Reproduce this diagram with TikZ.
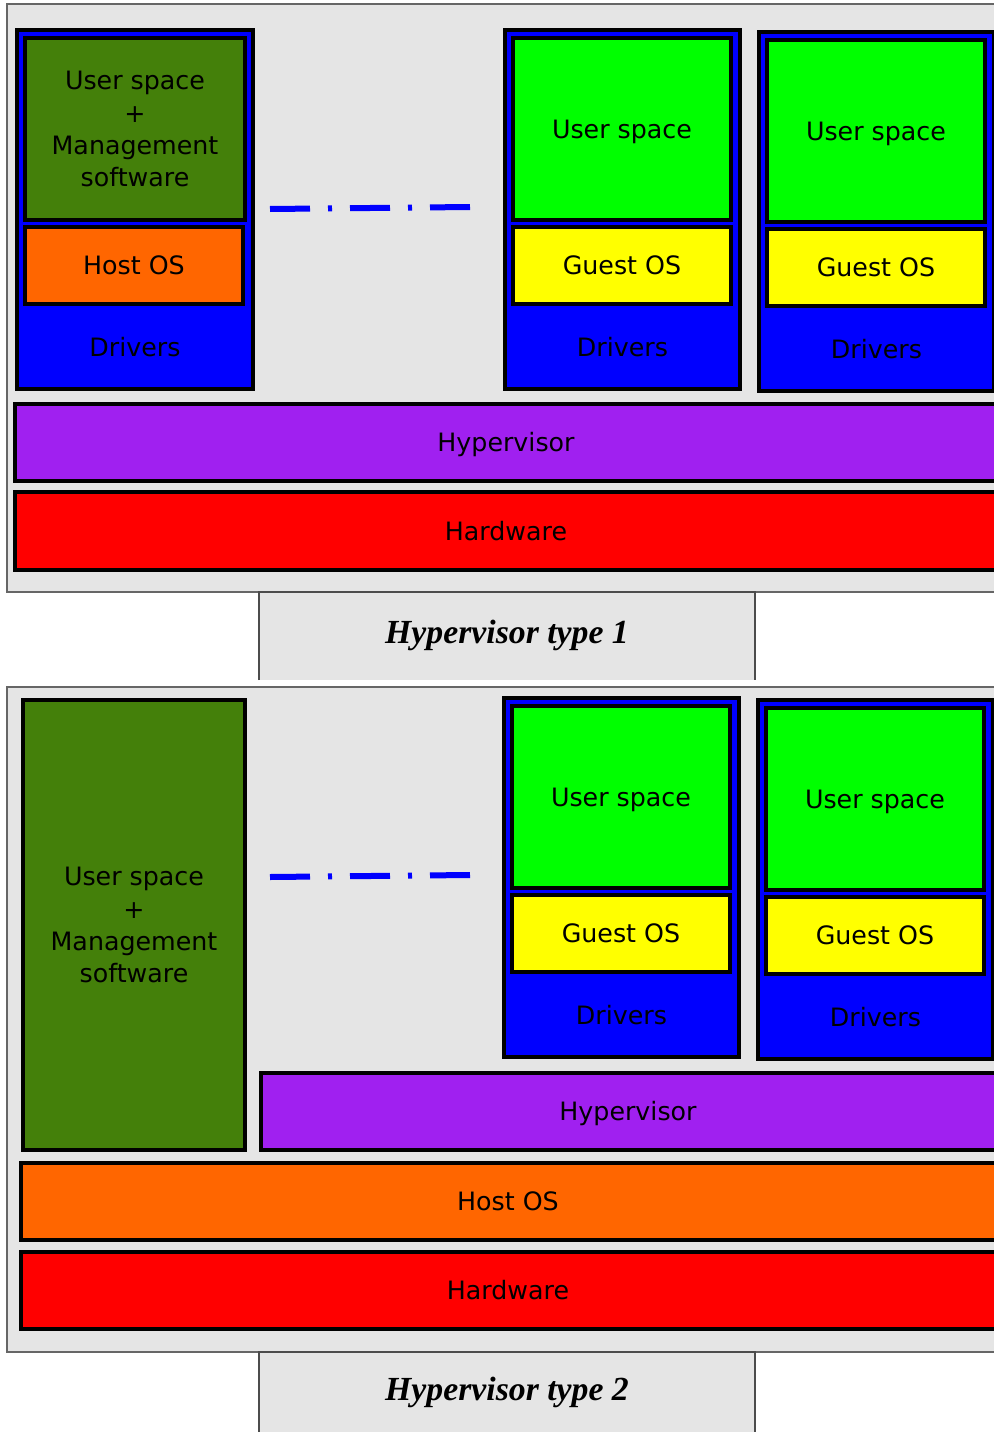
\documentclass[tikz,border=0pt]{standalone}
\usepackage{fontspec}
\setmainfont{DejaVu Sans}
\newfontfamily\capfont{Liberation Serif}
\usetikzlibrary{calc}
\definecolor{panelgray}{RGB}{229,229,229}
\definecolor{mgmtgreen}{RGB}{68,128,10}
\definecolor{hostorange}{RGB}{255,102,0}
\definecolor{userlime}{RGB}{0,255,0}
\definecolor{guestyellow}{RGB}{255,255,0}
\definecolor{drvblue}{RGB}{0,0,255}
\definecolor{hyppurple}{RGB}{160,32,240}
\definecolor{hwred}{RGB}{255,0,0}

% guest VM: #1,#2 = top left corner, #3 = name prefix
\newcommand{\guestvm}[3]{%
	\draw [layer, fill=drvblue] (#1,#2) rectangle ++(235,359);
	\draw [layer, fill=userlime] ($(#1,#2)+(8,8)$) rectangle ($(#1,#2)+(226,190)$);
	\path ($(#1,#2)+(8,8)$) -- ($(#1,#2)+(226,190)$) node [midway, oneline] (#3user) {User space};
	\draw [layer, fill=guestyellow] ($(#1,#2)+(8,197)$) rectangle ($(#1,#2)+(226,274)$);
	\path ($(#1,#2)+(8,197)$) -- ($(#1,#2)+(226,274)$) node [midway, oneline] (#3os) {Guest OS};
	\path ($(#1,#2)+(0,276)$) -- ($(#1,#2)+(235,359)$) node [midway, oneline] (#3drv) {Drivers};
}

\begin{document}
\begin{tikzpicture}[x=0.25mm, y=-0.25mm,
	layer/.style={draw=black, line width=0.9mm},
	panel/.style={fill=panelgray, draw=gray!80!black, line width=0.45mm},
	lbl/.style={font=\fontsize{18}{22.8}\selectfont, align=center, text=black},
	oneline/.style={lbl, text height=13pt, text depth=0pt},
	caption/.style={font=\capfont\bfseries\itshape\fontsize{24}{28}\selectfont},
	gapline/.style={drvblue, line width=1.5mm, dash pattern=on 10mm off 4.5mm on 1mm off 4.5mm}]
	\clip (0,0) rectangle (994,1432);

	% type 1
	\draw [panel] (7,4) rectangle (1010,592);
	\draw [layer, fill=drvblue] (17,30) rectangle (253,389);
	\draw [layer, fill=mgmtgreen] (25,38) rectangle (245,220);
	\path (25,38) -- (245,220) node [midway, lbl] (mgmt1) {User space\\+\\Management\\software};
	\draw [layer, fill=hostorange] (25,227) rectangle (243,304);
	\path (25,227) -- (243,304) node [midway, oneline] (host1) {Host OS};
	\path (17,306) -- (253,389) node [midway, oneline] (drv1) {Drivers};
	\coordinate (G1a) at (270,209);
	\coordinate (G1b) at (470,207);
	\draw [gapline] (G1a) -- (G1b);
	\guestvm{505}{30}{vmA}
	\guestvm{759}{32}{vmB}
	\draw [layer, fill=hyppurple] (15,404) rectangle (1010,481);
	\path (15,404) -- (997,481) node [midway, oneline] (hyp1) {Hypervisor};
	\draw [layer, fill=hwred] (15,492) rectangle (1010,570);
	\path (15,492) -- (997,570) node [midway, oneline] (hw1) {Hardware};
	\fill [panelgray] (259,592) rectangle (755,680);
	\draw [gray!60!black, line width=0.45mm] (259,680) -- (259,592) -- (755,592) -- (755,680);
	\path (259,592) -- (755,678) node [midway, caption] (cap1) {Hypervisor type 1};

	% type 2
	\draw [panel] (7,687) rectangle (1010,1352);
	\draw [layer, fill=mgmtgreen] (23,700) rectangle (245,1150);
	\path (23,700) -- (245,1150) node [midway, lbl] (mgmt2) {User space\\+\\Management\\software};
	\coordinate (G2a) at (270,877);
	\coordinate (G2b) at (470,875);
	\draw [gapline] (G2a) -- (G2b);
	\guestvm{504}{698}{vmC}
	\guestvm{758}{700}{vmD}
	\draw [layer, fill=hyppurple] (261,1073) rectangle (1010,1150);
	\path (261,1073) -- (995,1150) node [midway, oneline] (hyp2) {Hypervisor};
	\draw [layer, fill=hostorange] (21,1163) rectangle (1010,1240);
	\path (21,1163) -- (995,1240) node [midway, oneline] (host2) {Host OS};
	\draw [layer, fill=hwred] (21,1252) rectangle (1010,1329);
	\path (21,1252) -- (995,1329) node [midway, oneline] (hw2) {Hardware};
	\fill [panelgray] (259,1352) rectangle (755,1440);
	\draw [gray!60!black, line width=0.45mm] (259,1440) -- (259,1352) -- (755,1352) -- (755,1440);
	\path (259,1352) -- (755,1432) node [midway, caption] (cap2) {Hypervisor type 2};
\end{tikzpicture}
\end{document}
